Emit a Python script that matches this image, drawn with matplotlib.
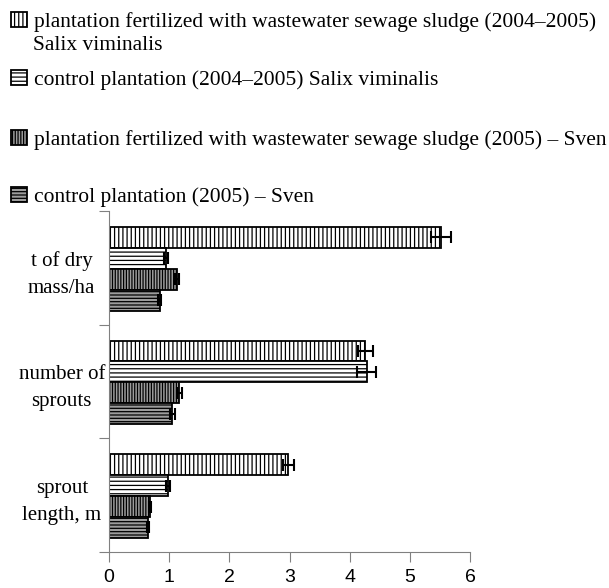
import matplotlib
matplotlib.use('Agg')
import matplotlib.pyplot as plt

# datos
categorias = ['t of dry\nmass/ha', 'number of\nsprouts', 'sprout\nlength, m']
series = ['plantation fertilized with wastewater sewage sludge (2004\u20132005)',
          'control plantation (2004\u20132005) Salix viminalis',
          'plantation fertilized with wastewater sewage sludge (2005) \u2013 Sven',
          'control plantation (2005) \u2013 Sven']
valores = [[5.52, 4.26, 2.98],
           [0.95, 4.28, 0.98],
           [1.13, 1.17, 0.68],
           [0.84, 1.05, 0.65]]
errores = [[0.16, 0.12, 0.09],
           [0.03, 0.16, 0.03],
           [0.03, 0.04, 0.02],
           [0.03, 0.04, 0.02]]
xticks = [0, 1, 2, 3, 4, 5, 6]

estilos = [('white', '||||'), ('white', '----'), ('#9c9c9c', '||||||'), ('#9c9c9c', '-----')]

plt.rcParams['font.family'] = ['Liberation Serif', 'DejaVu Serif']
plt.rcParams['hatch.linewidth'] = 0.9
plt.rcParams['hatch.color'] = 'black'

W, H = 609, 588
fig = plt.figure(figsize=(W / 100, H / 100), dpi=100)
ax = fig.add_axes([109 / W, 1 - 552 / H, 361 / W, 341 / H])

alto = 0.184
inicio = 0.14
barras = []
for i in range(len(series)):
    pos = [g + inicio + alto * (i + 0.5) for g in range(len(categorias))]
    b = ax.barh(pos, valores[i], height=alto, color=estilos[i][0], hatch=estilos[i][1],
                edgecolor='black', linewidth=1.3,
                xerr=errores[i], error_kw=dict(ecolor='black', elinewidth=1.5, capsize=4, capthick=1.5))
    barras.append(b)

ax.set_xlim(0, 6)
ax.set_ylim(len(categorias), 0)
ax.set_xticks(xticks)
ax.set_xticklabels([str(t) for t in xticks], family='Liberation Sans', fontsize=14)
ax.set_yticks(range(len(categorias) + 1))
ax.set_yticklabels([])
ax.set_yticks([g + 0.5 for g in range(len(categorias))], minor=True)
ax.set_yticklabels(categorias, minor=True, fontsize=15, ha='center', linespacing=1.6)
ax.tick_params(axis='y', which='minor', length=0, pad=34)
ax.tick_params(axis='y', which='major', length=7, color='#808080')
ax.tick_params(axis='x', length=7, color='#808080', pad=5)
for s in ['top', 'right']:
    ax.spines[s].set_visible(False)
for s in ['left', 'bottom']:
    ax.spines[s].set_color('#808080')

# leyenda, una entrada por serie
ys = [22, 80, 140, 197]
for i in range(len(series)):
    fig.legend(handles=[barras[i].patches[0]], labels=[series[i]], loc='center left',
               bbox_to_anchor=(11 / W, 1 - ys[i] / H), frameon=False, fontsize=15.5,
               handlelength=0.75, handleheight=0.7, handletextpad=0.3,
               borderpad=0, borderaxespad=0)
fig.text(33 / W, 1 - 45 / H, 'Salix viminalis', fontsize=15.5, va='center')

plt.savefig('out.png', dpi=100)
